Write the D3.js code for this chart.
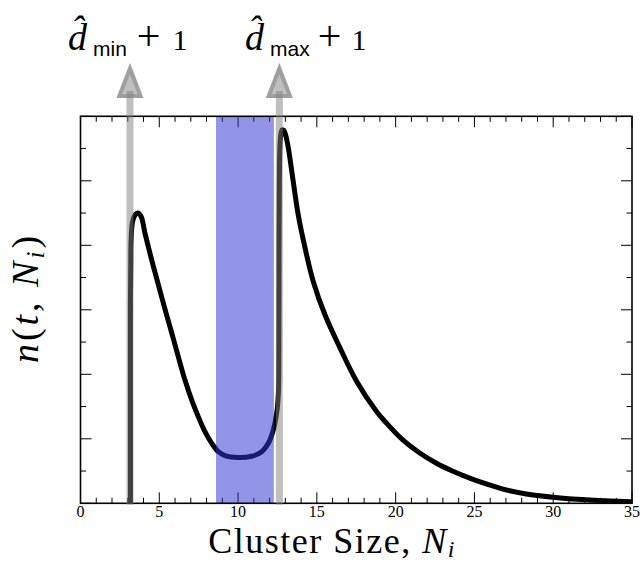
<!DOCTYPE html>
<html>
<head>
<meta charset="utf-8">
<script src="https://cdn.jsdelivr.net/npm/d3@7"></script>
<style>
  html, body { margin: 0; padding: 0; background: #fff; }
  svg { display: block; }
</style>
</head>
<body>
<svg id="chart" width="644" height="563"></svg>
<script>
// ---- data ----
const xTicks = [0, 5, 10, 15, 20, 25, 30, 35];
const xMinorTicks = d3.range(0, 36, 1);
const yMinorTicks = d3.range(0, 6.01, 0.5);

const curveX = [3.17, 3.17, 3.17, 3.19, 3.21, 3.30, 3.46, 3.63, 3.84, 4.09, 4.52, 4.94, 5.36, 5.79, 6.21, 6.63, 7.06, 7.48, 7.90, 8.33, 8.75, 9.17, 10.01, 10.87, 11.50, 11.92, 12.24, 12.45, 12.56, 12.59, 12.60, 12.62, 12.65, 12.70, 12.79, 12.91, 13.04, 13.19, 13.50, 13.82, 14.25, 14.77, 15.52, 16.47, 17.53, 18.80, 19.43, 20.47, 21.53, 22.59, 23.60, 24.70, 25.80, 26.81, 28.29, 29.98, 32.10, 35.00];
const curveY = [0.00, 1.60, 3.15, 3.67, 4.08, 4.36, 4.47, 4.50, 4.45, 4.19, 3.77, 3.39, 3.01, 2.64, 2.27, 1.91, 1.60, 1.34, 1.11, 0.93, 0.80, 0.74, 0.71, 0.73, 0.80, 0.93, 1.14, 1.40, 1.71, 2.38, 3.93, 4.98, 5.48, 5.69, 5.79, 5.78, 5.69, 5.51, 4.99, 4.47, 3.96, 3.44, 2.92, 2.41, 1.89, 1.42, 1.24, 0.98, 0.78, 0.62, 0.50, 0.39, 0.297, 0.22, 0.145, 0.095, 0.055, 0.025];

const dMinPlus1 = 3.14;
const dMaxPlus1 = 12.62;
const bandRange = [8.6, 12.27];
const markerSubs = ["min", "max"];

// ---- layout ----
const L = 80.5, R = 632, T = 116.3, B = 503.3;
const svg = d3.select("#chart");
const defs = svg.append("defs");
const x = d3.scaleLinear().domain([0, 35]).range([L, R]);
const y = d3.scaleLinear().domain([0, 6]).range([B, T]);

defs.append("clipPath").attr("id", "plotclip")
  .append("rect").attr("x", L).attr("y", T).attr("width", R - L).attr("height", B - T);

// ticks (inward on all four sides)
const tickG = svg.append("g").attr("stroke", "#000").attr("stroke-width", 1);
const MAJ = 11, MIN = 5.5;
xMinorTicks.forEach(v => {
  const len = (v % 5 === 0) ? MAJ : MIN;
  const px = x(v);
  tickG.append("line").attr("x1", px).attr("x2", px).attr("y1", B).attr("y2", B - len);
  tickG.append("line").attr("x1", px).attr("x2", px).attr("y1", T).attr("y2", T + len);
});
yMinorTicks.forEach(v => {
  const len = (Math.abs(v - Math.round(v)) < 1e-6) ? MAJ : MIN;
  const py = y(v);
  tickG.append("line").attr("x1", L).attr("x2", L + len).attr("y1", py).attr("y2", py);
  tickG.append("line").attr("x1", R).attr("x2", R - len).attr("y1", py).attr("y2", py);
});

// x tick labels
svg.append("g").selectAll("text").data(xTicks).join("text")
  .attr("x", d => x(d)).attr("y", 517)
  .attr("text-anchor", "middle")
  .attr("font-family", "Liberation Serif, serif")
  .attr("font-size", 16)
  .text(d => d);

// curve
const line = d3.line()
  .x((d, i) => x(curveX[i]))
  .y((d, i) => y(curveY[i]))
  .curve(d3.curveCatmullRom.alpha(0.5));
svg.append("path")
  .attr("clip-path", "url(#plotclip)")
  .attr("d", line(curveX))
  .attr("fill", "none").attr("stroke", "#000").attr("stroke-width", 5)
  .attr("stroke-linejoin", "round");

// band
svg.append("rect")
  .attr("x", x(bandRange[0])).attr("y", T)
  .attr("width", x(bandRange[1]) - x(bandRange[0])).attr("height", B - T)
  .attr("fill", "rgba(48,53,210,0.525)");

// frame
svg.append("rect").attr("x", L).attr("y", T).attr("width", R - L).attr("height", B - T)
  .attr("fill", "none").attr("stroke", "#000").attr("stroke-width", 1.6);

// marker arrows
const gray = "rgba(128,128,128,0.5)";
const tipY = 63, baseY = 98, halfW = 13.5;
const labelStart = [68, 245];
const plusDx = [10, 8];
const oneDx = [12, 10];
[dMinPlus1, dMaxPlus1].forEach((v, i) => {
  const px = x(v);
  svg.append("line").attr("x1", px).attr("x2", px).attr("y1", B + 1.5).attr("y2", 91)
    .attr("stroke", gray).attr("stroke-width", 7).attr("stroke-linecap", "butt");
  const pts = [[px, tipY], [px - halfW, baseY], [px + halfW, baseY]].map(p => p.join(",")).join(" ");
  const cid = "triclip" + i;
  defs.append("clipPath").attr("id", cid).append("polygon").attr("points", pts);
  svg.append("polygon").attr("points", pts).attr("fill", gray);
  svg.append("polygon").attr("points", pts)
    .attr("fill", "none").attr("stroke", gray).attr("stroke-width", 8)
    .attr("stroke-linejoin", "miter")
    .attr("clip-path", "url(#" + cid + ")");

  const t = svg.append("text").attr("x", labelStart[i]).attr("y", 50)
    .attr("font-family", "Liberation Serif, serif").attr("fill", "#000");
  t.append("tspan").attr("font-style", "italic").attr("font-size", 38).text("d\u0302");
  t.append("tspan").attr("font-family", "Liberation Sans, sans-serif").attr("font-size", 21)
    .attr("dx", 6).attr("dy", 6).text(markerSubs[i]);
  t.append("tspan").attr("font-size", 42).attr("dx", plusDx[i]).attr("dy", -6).text("+");
  t.append("tspan").attr("font-size", 30).attr("dx", oneDx[i]).text("1");
});

// axis titles
const xl = svg.append("text").attr("x", 332).attr("y", 553)
  .attr("text-anchor", "middle")
  .attr("font-family", "Liberation Serif, serif").attr("font-size", 36)
  .attr("letter-spacing", 1.5);
xl.append("tspan").text("Cluster Size, ");
xl.append("tspan").attr("font-style", "italic").text("N");
xl.append("tspan").attr("font-style", "italic").attr("font-size", 24).attr("dy", 4).text("i");

const yl = svg.append("text").attr("transform", "translate(38,298) rotate(-90)")
  .attr("text-anchor", "middle")
  .attr("font-family", "Liberation Serif, serif").attr("font-size", 38)
  .attr("letter-spacing", 3);
yl.append("tspan").attr("font-style", "italic").text("n");
yl.append("tspan").text("(");
yl.append("tspan").attr("font-style", "italic").text("t");
yl.append("tspan").text(", ");
yl.append("tspan").attr("font-style", "italic").text("N");
yl.append("tspan").attr("font-style", "italic").attr("font-size", 25).attr("dy", 6).text("i");
yl.append("tspan").attr("dy", -6).text(")");
</script>
</body>
</html>
